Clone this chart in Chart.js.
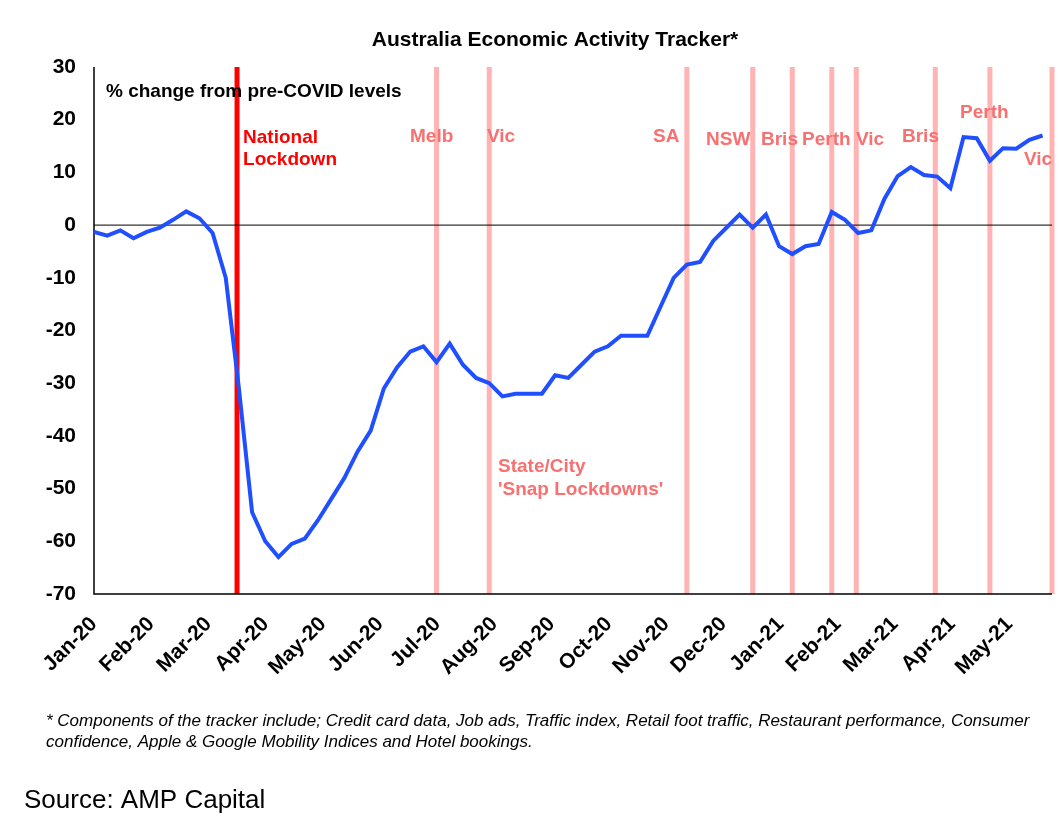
<!DOCTYPE html>
<html><head><meta charset="utf-8">
<script src="https://cdn.jsdelivr.net/npm/chart.js@4"></script>
<style>body{margin:0;background:#fff}#c{display:block}</style>
</head><body>
<div style="width:1064px;height:838px"><canvas id="c"></canvas></div>
<script>
// weekly index values, % change from pre-COVID levels
const activity = [-1.3,-2,-1,-2.5,-1.3,-0.5,1,2.6,1.3,-1.5,-10,-31,-54.5,-60,-63,-60.5,-59.5,-56,-52,-48,-43,-39,-31,-27,-24,-23,-26,-22.5,-26.5,-29,-30,-32.5,-32,-32,-32,-28.5,-29,-26.5,-24,-23,-21,-21,-21,-15.5,-10,-7.5,-7,-3,-0.5,2,-0.5,2,-4,-5.5,-4,-3.6,2.5,1,-1.5,-1,5,9.3,11,9.5,9.2,7,16.7,16.5,12.2,14.6,14.5,16.2,17];
const monthLabels = ['Jan-20','Feb-20','Mar-20','Apr-20','May-20','Jun-20','Jul-20','Aug-20','Sep-20','Oct-20','Nov-20','Dec-20','Jan-21','Feb-21','Mar-21','Apr-21','May-21'];
const lockdownDays = [182,210,315,350,371,392,405,447,476,509];
const lockdownNames = ['Melb','Vic','SA','NSW','Bris','Perth','Vic','Bris','Perth','Vic'];
const nationalDay = 76;
const yTicks = [30,20,10,0,-10,-20,-30,-40,-50,-60,-70];

const points = activity.map((v,i)=>({x:i*7,y:v}));
const F = '"Liberation Sans", Arial, sans-serif';

const overlay = {
  id:'overlay',
  beforeDatasetsDraw(chart){
    const {ctx, chartArea:a, scales:{x,y}} = chart;
    ctx.save();
    ctx.strokeStyle='#ffb3b3'; ctx.lineWidth=5;
    lockdownDays.forEach(d=>{const px=x.getPixelForValue(d);ctx.beginPath();ctx.moveTo(px,a.top);ctx.lineTo(px,a.bottom);ctx.stroke();});
    ctx.strokeStyle='#ff0000'; ctx.lineWidth=5;
    const np=x.getPixelForValue(nationalDay);
    ctx.beginPath();ctx.moveTo(np,a.top);ctx.lineTo(np,a.bottom);ctx.stroke();
    ctx.strokeStyle='#000'; ctx.lineWidth=1.5;
    ctx.beginPath();ctx.moveTo(a.left,a.top);ctx.lineTo(a.left,a.bottom);ctx.lineTo(a.right,a.bottom);ctx.stroke();
    ctx.lineWidth=1;
    ctx.beginPath();ctx.moveTo(a.left,y.getPixelForValue(0));ctx.lineTo(a.right,y.getPixelForValue(0));ctx.stroke();
    ctx.restore();
  },
  afterDraw(chart){
    const {ctx, scales:{x}} = chart;
    ctx.save();
    ctx.textBaseline='middle';
    ctx.fillStyle='#000'; ctx.font='bold 21px '+F; ctx.textAlign='center';
    ctx.fillText('Australia Economic Activity Tracker*', 555, 40);
    ctx.textAlign='left'; ctx.font='bold 19px '+F;
    ctx.fillText('% change from pre-COVID levels', 106, 92);
    ctx.fillStyle='#ff0000';
    const np=x.getPixelForValue(nationalDay);
    ctx.fillText('National', np+6, 138); ctx.fillText('Lockdown', np+6, 160);
    ctx.fillStyle='#f87070';
    const labelY=[137,137,137,140,140,140,140,137,113,160];
    const labelX=[410,487,653,706,761,802,856,902,960,1024];
    lockdownNames.forEach((n,i)=>ctx.fillText(n,labelX[i],labelY[i]));
    ctx.fillText('State/City', 498, 467); ctx.fillText("'Snap Lockdowns'", 498, 490);
    ctx.fillStyle='#000'; ctx.font='italic 17px '+F;
    ctx.fillText('* Components of the tracker include; Credit card data, Job ads, Traffic index, Retail foot traffic, Restaurant performance, Consumer', 46, 721);
    ctx.fillText('confidence, Apple & Google Mobility Indices and Hotel bookings.', 46, 742);
    ctx.font='26px '+F;
    ctx.fillText('Source: AMP Capital', 24, 801);
    ctx.restore();
  }
};

new Chart(document.getElementById('c'), {
  type:'line',
  data:{datasets:[{data:points,borderColor:'#1f4fff',borderWidth:4,pointRadius:0,tension:0}]},
  options:{
    responsive:true, maintainAspectRatio:false, animation:false,
    layout:{padding:{top:67,right:12,left:0,bottom:0}},
    plugins:{legend:{display:false},tooltip:{enabled:false}},
    scales:{
      x:{type:'linear',min:0,max:509,
        afterBuildTicks(s){s.ticks=monthLabels.map((l,i)=>({value:i*30.4}));},
        afterFit(s){s.height=244;},
        grid:{display:false,drawTicks:false},
        border:{display:false},
        ticks:{autoSkip:false,maxRotation:45,minRotation:45,padding:18,color:'#000',font:{family:F,size:21,weight:'bold'},
          callback:(v,i)=>monthLabels[i]}},
      y:{min:-70,max:30,
        afterBuildTicks(s){s.ticks=yTicks.map(v=>({value:v}));},
        afterFit(s){s.width=94;},
        grid:{display:false},border:{display:false},
        ticks:{color:'#000',padding:10,font:{family:F,size:21,weight:'bold'}}}
    }
  },
  plugins:[overlay]
});
</script>
</body></html>
